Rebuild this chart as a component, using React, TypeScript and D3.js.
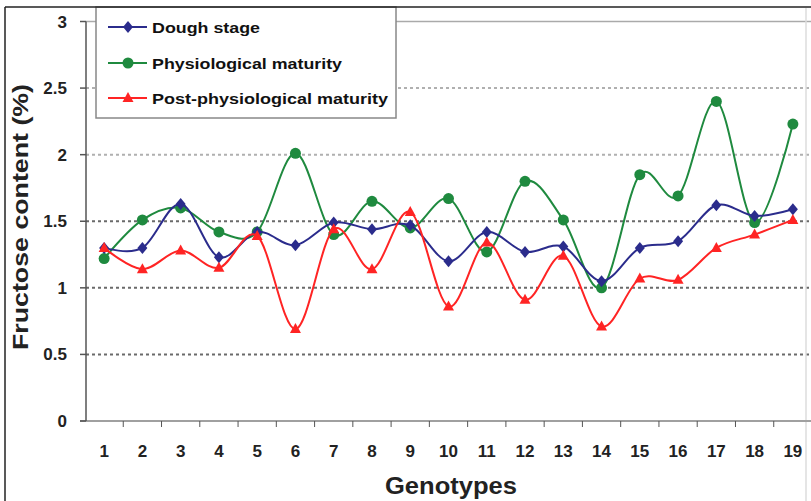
import React, { useEffect, useRef } from 'react';
import * as d3 from 'd3';

// genotypes 1..19
const genotypes = d3.range(1, 20).map(String);

const doughStage = [1.3, 1.3, 1.63, 1.23, 1.42, 1.32, 1.49, 1.44, 1.47, 1.2, 1.42, 1.27, 1.31, 1.05, 1.3, 1.35, 1.62, 1.54, 1.59];
const physMaturity = [1.22, 1.51, 1.6, 1.42, 1.42, 2.01, 1.4, 1.65, 1.45, 1.67, 1.27, 1.8, 1.51, 1.0, 1.85, 1.69, 2.4, 1.49, 2.23];
const postPhysMaturity = [1.3, 1.14, 1.28, 1.15, 1.39, 0.69, 1.44, 1.14, 1.57, 0.86, 1.34, 0.91, 1.24, 0.71, 1.07, 1.06, 1.3, 1.4, 1.51];

const yTicks = [0, 0.5, 1, 1.5, 2, 2.5, 3];

const seriesNames = ['Dough stage', 'Physiological maturity', 'Post-physiological maturity'];
const seriesColors = ['#2b2c8c', '#1f8a3f', '#ff2424'];
const seriesMarkers = ['diamond', 'circle', 'triangle'];

const FONT = '"Liberation Sans", Arial, sans-serif';

const App: React.FC = () => {
  const ref = useRef<SVGSVGElement>(null);

  useEffect(() => {
    const svg = d3.select(ref.current);
    svg.selectAll('*').remove();

    const W = 811;
    const H = 501;
    const left = 86;
    const right = 812;
    const top = 21.5;
    const bottom = 421;

    svg.append('rect').attr('width', W).attr('height', H).attr('fill', '#fff');

    const x = d3.scaleBand<string>().domain(genotypes).range([left - 1, right]);
    const y = d3.scaleLinear().domain([0, 3]).range([bottom, top]);
    const cx = (i: number) => (x(genotypes[i]) || 0) + x.bandwidth() / 2;

    // grid lines
    yTicks.filter(t => t > 0 && t < 3).forEach(t => {
      svg.append('line')
        .attr('x1', left).attr('x2', W)
        .attr('y1', y(t)).attr('y2', y(t))
        .attr('stroke', t >= 2 ? '#b0b0b0' : '#6a6a6a')
        .attr('stroke-width', 2)
        .attr('stroke-dasharray', '3,3');
    });

    // plot top border
    svg.append('line')
      .attr('x1', left).attr('x2', W).attr('y1', y(3)).attr('y2', y(3))
      .attr('stroke', '#aaa').attr('stroke-width', 1.5);
    svg.append('line')
      .attr('x1', 806).attr('x2', 806).attr('y1', 8).attr('y2', H)
      .attr('stroke', '#ddd').attr('stroke-width', 1.5);

    // x axis
    svg.append('line')
      .attr('x1', left - 6).attr('x2', W).attr('y1', bottom).attr('y2', bottom)
      .attr('stroke', '#a0a0a0').attr('stroke-width', 2);
    genotypes.slice(1).forEach(g => {
      const xx = x(g) || 0;
      svg.append('line')
        .attr('x1', xx).attr('x2', xx).attr('y1', bottom).attr('y2', bottom + 6)
        .attr('stroke', '#555').attr('stroke-width', 1);
    });
    genotypes.forEach((g, i) => {
      svg.append('text')
        .attr('x', cx(i)).attr('y', 457)
        .attr('text-anchor', 'middle')
        .attr('font-family', FONT).attr('font-size', 17).attr('font-weight', 'bold')
        .attr('fill', '#222')
        .text(g);
    });

    // y axis
    svg.append('line')
      .attr('x1', left).attr('x2', left).attr('y1', top).attr('y2', bottom)
      .attr('stroke', '#555').attr('stroke-width', 1.5);
    yTicks.forEach(t => {
      svg.append('line')
        .attr('x1', left - 6).attr('x2', left).attr('y1', y(t)).attr('y2', y(t))
        .attr('stroke', '#555').attr('stroke-width', 1.5);
      svg.append('text')
        .attr('x', 67).attr('y', y(t) + 6)
        .attr('text-anchor', 'end')
        .attr('font-family', FONT).attr('font-size', 17).attr('font-weight', 'bold')
        .attr('fill', '#222')
        .text(String(t));
    });

    // axis titles
    svg.append('text')
      .attr('transform', `translate(28,${217}) rotate(-90)`)
      .attr('text-anchor', 'middle')
      .attr('font-family', FONT).attr('font-size', 22).attr('font-weight', 'bold')
      .attr('fill', '#222')
      .attr('textLength', 266).attr('lengthAdjust', 'spacingAndGlyphs')
      .text('Fructose content (%)');
    svg.append('text')
      .attr('x', 451).attr('y', 494)
      .attr('text-anchor', 'middle')
      .attr('font-family', FONT).attr('font-size', 23).attr('font-weight', 'bold')
      .attr('fill', '#222')
      .attr('textLength', 132).attr('lengthAdjust', 'spacingAndGlyphs')
      .text('Genotypes');

    const drawMarker = (g: d3.Selection<SVGGElement, unknown, null, undefined>, kind: string, px: number, py: number, color: string) => {
      if (kind === 'diamond') {
        g.append('path')
          .attr('d', `M${px},${py - 6}L${px + 5},${py}L${px},${py + 6}L${px - 5},${py}Z`)
          .attr('fill', color);
      } else if (kind === 'circle') {
        g.append('circle').attr('cx', px).attr('cy', py).attr('r', 5.5).attr('fill', color);
      } else {
        g.append('path')
          .attr('d', `M${px},${py - 6}L${px + 5.5},${py + 4}L${px - 5.5},${py + 4}Z`)
          .attr('fill', color);
      }
    };

    const allSeries = [doughStage, physMaturity, postPhysMaturity];
    const line = d3.line<number>()
      .x((_, i) => cx(i))
      .y(d => y(d))
      .curve(d3.curveCatmullRom.alpha(0));

    // draw in order green, blue, red (red on top)
    [1, 0, 2].forEach(si => {
      const g = svg.append('g');
      g.append('path')
        .attr('d', line(allSeries[si]) || '')
        .attr('fill', 'none')
        .attr('stroke', seriesColors[si])
        .attr('stroke-width', 2);
      allSeries[si].forEach((v, i) => drawMarker(g as any, seriesMarkers[si], cx(i), y(v), seriesColors[si]));
    });

    // legend
    const lg = svg.append('g');
    lg.append('rect')
      .attr('x', 96).attr('y', 7).attr('width', 300).attr('height', 111)
      .attr('fill', '#fff').attr('stroke', '#888').attr('stroke-width', 1.5);
    const rowY = [27, 63, 98];
    const legendTextLen = [108, 190, 236];
    seriesNames.forEach((name, i) => {
      lg.append('line')
        .attr('x1', 108).attr('x2', 147).attr('y1', rowY[i]).attr('y2', rowY[i])
        .attr('stroke', seriesColors[i]).attr('stroke-width', 2);
      drawMarker(lg as any, seriesMarkers[i], 128, rowY[i], seriesColors[i]);
      lg.append('text')
        .attr('x', 152).attr('y', rowY[i] + 5.5)
        .attr('font-family', FONT).attr('font-size', 15).attr('font-weight', 'bold')
        .attr('fill', '#111')
        .attr('textLength', legendTextLen[i]).attr('lengthAdjust', 'spacingAndGlyphs')
        .text(name);
    });

    // outer frame (top and left visible)
    svg.append('line').attr('x1', 5).attr('x2', W).attr('y1', 7).attr('y2', 7)
      .attr('stroke', '#222').attr('stroke-width', 1.5);
    svg.append('line').attr('x1', 5).attr('x2', 5).attr('y1', 7).attr('y2', H)
      .attr('stroke', '#222').attr('stroke-width', 1.5);
  }, []);

  return (
    <svg ref={ref} width={811} height={501} style={{ position: 'absolute', left: 0, top: 0, display: 'block' }} />
  );
};

export default App;
